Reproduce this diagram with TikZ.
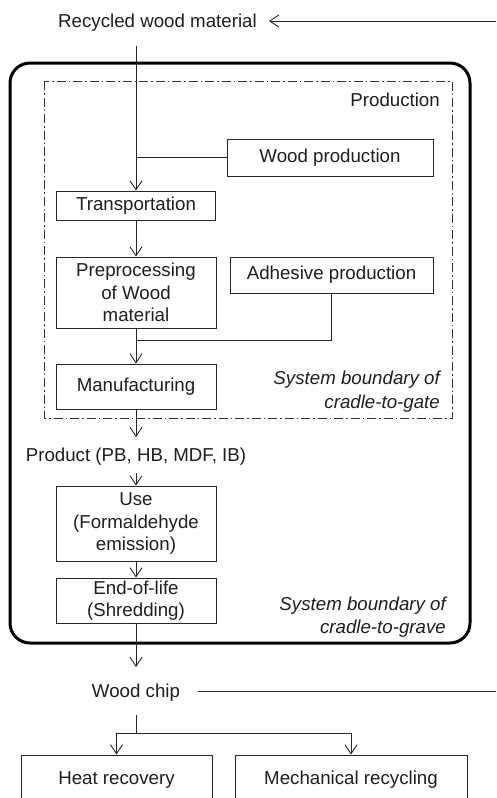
\documentclass[tikz,border=0pt]{standalone}
\usepackage{fontspec}
\setmainfont{Liberation Sans}
\usetikzlibrary{arrows.meta}
\begin{document}
\begin{tikzpicture}[x=1pt,y=-1pt,
  every node/.style={font=\fontsize{18.7}{22.5}\selectfont, text=black!88},
  proc/.style={draw=black!85, line width=0.9pt, align=center, inner sep=0pt},
  lbl/.style={inner sep=0pt, text height=13.5pt, text depth=0pt},
  conn/.style={draw=black!85, line width=0.9pt},
  arr/.style={conn, -{Straight Barb[length=9pt,width=12pt,line width=0.9pt]}}
]
\clip (0,0) rectangle (496,798);
\fill[white] (0,0) rectangle (496,798);

% boundaries
\draw[line width=3pt, rounded corners=20pt] (10,63) rectangle (470,643);
\draw[line width=0.9pt, black!80, dash pattern=on 9pt off 3pt on 1.5pt off 3pt] (44,81) rectangle (452,418);

% text labels
\node[lbl, inner xsep=12pt] (recycled) at (157.5,21) {Recycled wood material};
\node[lbl, anchor=east] (prodlbl) at (440,100) {Production};
\node[anchor=east, align=right, inner sep=0pt, font=\fontsize{18.7}{24}\selectfont\itshape] (gate) at (440,392) {System boundary of\\cradle-to-gate};
\node[anchor=east, align=right, inner sep=0pt, font=\fontsize{18.7}{23}\selectfont\itshape] (grave) at (446,617) {System boundary of\\cradle-to-grave};
\node[lbl, inner ysep=11pt] (product) at (136,455) {Product (PB, HB, MDF, IB)};
\node[lbl, inner xsep=18pt, inner ysep=17pt] (chip) at (136,691) {Wood chip};

% process boxes
\node[proc, minimum width=206pt, minimum height=37pt] (wood) at (330,157.5) {Wood production};
\node[proc, minimum width=159pt, minimum height=29pt] (trans) at (136,205.5) {Transportation};
\node[proc, minimum width=160pt, minimum height=71pt] (prep) at (136,292.5) {Preprocessing\\of Wood\\material};
\node[proc, minimum width=203pt, minimum height=36pt] (adh) at (331.5,275) {Adhesive production};
\node[proc, minimum width=160pt, minimum height=45pt] (manu) at (136,386.5) {Manufacturing};
\node[proc, minimum width=160pt, minimum height=75pt] (use) at (136,523.5) {Use\\(Formaldehyde\\emission)};
\node[proc, minimum width=160pt, minimum height=45pt] (eol) at (136,600.5) {End-of-life\\(Shredding)};
\node[proc, minimum width=191pt, minimum height=50pt] (heat) at (116.5,780) {Heat recovery};
\node[proc, minimum width=232pt, minimum height=50pt] (mech) at (351,780) {Mechanical recycling};

% coordinates
\coordinate (start) at (136,46);
\coordinate (topright) at (496,21);
\coordinate (chipright) at (496,691);
\coordinate (join) at (136,340);
\coordinate (split) at (136,733);

% connectors
\draw[arr] (topright) -- (recycled.east);
\draw[arr] (start) -- (trans.north);
\draw[conn] (wood.west) -- (wood.west -| start);
\draw[arr] (trans.south) -- (prep.north);
\draw[conn] (adh.south) |- (join);
\draw[arr] (prep.south) -- (manu.north);
\draw[arr] (manu.south) -- (product.north);
\draw[arr] (product.south) -- (use.north);
\draw[arr] (use.south) -- (eol.north);
\draw[arr] (eol.south) -- (chip.north);
\draw[conn] (chip.east) -- (chipright);
\draw[conn] (chip.south) -- (split);
\draw[arr] (split) -| (heat.north);
\draw[arr] (split) -| (mech.north);
\end{tikzpicture}
\end{document}
